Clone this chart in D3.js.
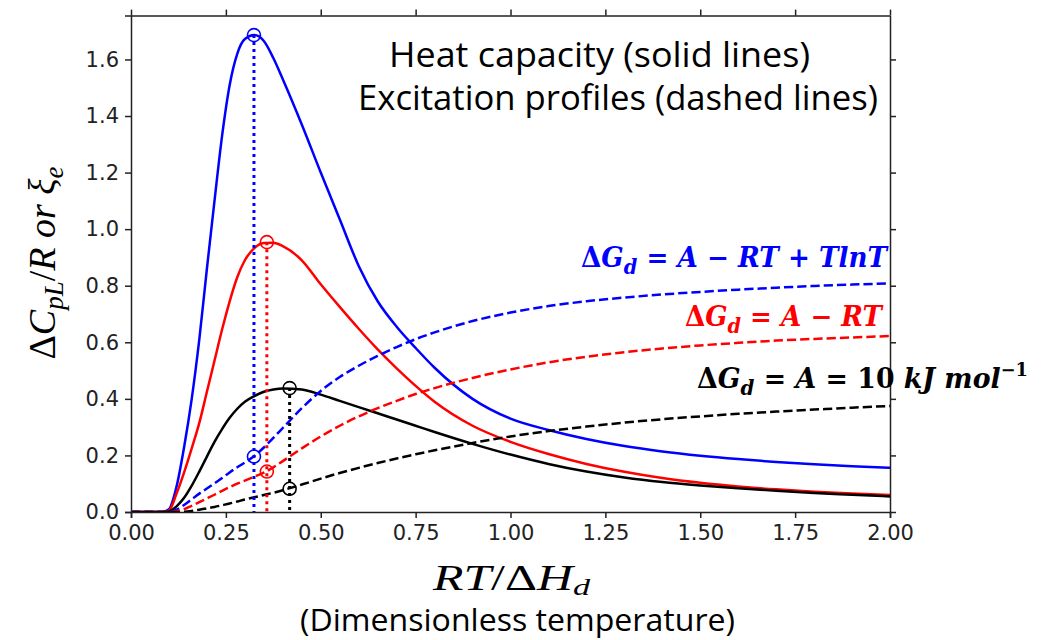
<!DOCTYPE html>
<html>
<head>
<meta charset="utf-8">
<script src="https://cdn.jsdelivr.net/npm/d3@7"></script>
<style>
  body { margin: 0; background: #fff; }
  .axis text { font-family: "DejaVu Sans", sans-serif; font-size: 21px; fill: #222; }
  .axis path, .axis line { stroke: #222; stroke-width: 1.5; }
</style>
</head>
<body>
<div id="chart"></div>
<script>
// x samples (RT/dHd)
var xGrid = [0, 0.05, 0.08, 0.10, 0.12, 0.14, 0.16, 0.18, 0.20, 0.22, 0.24, 0.26, 0.28, 0.30,
  0.325, 0.35, 0.375, 0.40, 0.45, 0.50, 0.55, 0.60, 0.65, 0.70, 0.75, 0.80, 0.90, 1.00,
  1.10, 1.20, 1.30, 1.40, 1.50, 1.60, 1.70, 1.80, 1.90, 2.00]

// heat capacity (solid)
var cpBlue = [0, 0, 0, 0.01, 0.09, 0.23, 0.40, 0.61, 0.86, 1.10, 1.33, 1.51, 1.62, 1.672,
  1.686, 1.665, 1.605, 1.53, 1.37, 1.20, 1.035, 0.87, 0.745, 0.655, 0.58, 0.51, 0.40, 0.33,
  0.29, 0.258, 0.233, 0.214, 0.199, 0.187, 0.177, 0.169, 0.162, 0.156]
var cpRed = [0, 0, 0, 0.005, 0.065, 0.14, 0.225, 0.315, 0.425, 0.535, 0.645, 0.745, 0.83, 0.89,
  0.933, 0.951, 0.952, 0.94, 0.89, 0.805, 0.725, 0.648, 0.575, 0.508, 0.446, 0.39, 0.305, 0.248,
  0.205, 0.17, 0.142, 0.12, 0.103, 0.09, 0.08, 0.072, 0.065, 0.06]
var cpBlack = [0, 0, 0, 0.002, 0.02, 0.05, 0.093, 0.143, 0.196, 0.248, 0.293, 0.333, 0.365, 0.39,
  0.41, 0.425, 0.433, 0.437, 0.433, 0.415, 0.393, 0.371, 0.349, 0.327, 0.305, 0.283, 0.241, 0.203,
  0.17, 0.143, 0.122, 0.106, 0.094, 0.084, 0.075, 0.067, 0.061, 0.055]

// excitation profiles (dashed)
var xiBlue = [0, 0, 0, 0, 0.008, 0.025, 0.045, 0.065, 0.083, 0.101, 0.12, 0.14, 0.158, 0.175,
  0.198, 0.228, 0.262, 0.297, 0.367, 0.428, 0.477, 0.517, 0.552, 0.583, 0.611, 0.635, 0.675, 0.705,
  0.728, 0.745, 0.758, 0.769, 0.778, 0.786, 0.793, 0.799, 0.804, 0.808]
var xiRed = [0, 0, 0, 0, 0.003, 0.01, 0.022, 0.035, 0.048, 0.061, 0.075, 0.088, 0.1, 0.111,
  0.125, 0.139, 0.158, 0.18, 0.225, 0.267, 0.305, 0.338, 0.367, 0.393, 0.417, 0.438, 0.474, 0.504,
  0.529, 0.549, 0.565, 0.578, 0.589, 0.598, 0.606, 0.612, 0.617, 0.622]
var xiBlack = [0, 0, 0, 0, 0, 0.001, 0.004, 0.008, 0.013, 0.018, 0.024, 0.03, 0.037, 0.044,
  0.052, 0.06, 0.068, 0.077, 0.097, 0.118, 0.138, 0.156, 0.173, 0.189, 0.204, 0.218, 0.244, 0.267,
  0.286, 0.302, 0.316, 0.328, 0.338, 0.347, 0.355, 0.362, 0.369, 0.375]

// peak of each heat capacity curve and the excitation value there
var peakX = [0.324, 0.358, 0.418]
var peakCp = [1.686, 0.954, 0.438]
var peakXi = [0.196, 0.143, 0.082]

var colors = ['#0000ff', '#ff0000', '#000000']
var xTicks = [0, 0.25, 0.5, 0.75, 1.0, 1.25, 1.5, 1.75, 2.0]
var yTicks = [0, 0.2, 0.4, 0.6, 0.8, 1.0, 1.2, 1.4, 1.6]
var titleLines = ['Heat capacity (solid lines)', 'Excitation profiles (dashed lines)']

;(function () {

  var margin = { top: 15.6, right: 162, bottom: 128, left: 131 }

  var width = 1052 - margin.left - margin.right,
      height = 640 - margin.top - margin.bottom

  var svg = d3.select('#chart').append('svg')
    .attr('width', 1052)
    .attr('height', 640)
    .style('font-family', 'Open Sans, sans-serif')

  var g = svg.append('g')
    .attr('transform', 'translate(' + margin.left + ',' + margin.top + ')')

  var xPositionScale = d3.scaleLinear()
    .domain([0, 2])
    .range([0, width])

  var yPositionScale = d3.scaleLinear()
    .domain([0, 1.755])
    .range([height, 0])

  g.append('clipPath').attr('id', 'clip')
    .append('rect').attr('width', width).attr('height', height)

  var line = d3.line()
    .x(function (d) { return xPositionScale(d[0]) })
    .y(function (d) { return yPositionScale(d[1]) })
    .curve(d3.curveMonotoneX)

  function pts(ys) {
    return xGrid.map(function (x, i) { return [x, ys[i]] })
  }

  var plot = g.append('g').attr('clip-path', 'url(#clip)')

  // solid lines
  ;[cpBlue, cpRed, cpBlack].forEach(function (ys, i) {
    plot.append('path')
      .datum(pts(ys))
      .attr('d', line)
      .attr('fill', 'none')
      .attr('stroke', colors[i])
      .attr('stroke-width', 2.5)
  })

  // dashed lines
  ;[xiBlue, xiRed, xiBlack].forEach(function (ys, i) {
    plot.append('path')
      .datum(pts(ys))
      .attr('d', line)
      .attr('fill', 'none')
      .attr('stroke', colors[i])
      .attr('stroke-width', 2.5)
      .attr('stroke-dasharray', '9.25,4')
  })

  // dotted drop lines from the peaks
  peakX.forEach(function (x, i) {
    plot.append('line')
      .attr('x1', xPositionScale(x))
      .attr('x2', xPositionScale(x))
      .attr('y1', yPositionScale(peakCp[i]))
      .attr('y2', yPositionScale(0))
      .attr('stroke', colors[i])
      .attr('stroke-width', 3)
      .attr('stroke-dasharray', '3,4')
  })

  // open circles
  peakX.forEach(function (x, i) {
    [peakCp[i], peakXi[i]].forEach(function (y) {
      g.append('circle')
        .attr('cx', xPositionScale(x))
        .attr('cy', yPositionScale(y))
        .attr('r', 6.5)
        .attr('fill', 'none')
        .attr('stroke', colors[i])
        .attr('stroke-width', 1.6)
    })
  })

  // axes, ticks out on all four sides
  var yAxis = d3.axisLeft(yPositionScale)
    .tickValues(yTicks)
    .tickFormat(d3.format('.1f'))
    .tickSizeOuter(0)
    .tickSize(6)
    .tickPadding(6)
  g.append('g').attr('class', 'axis y-axis').call(yAxis)

  var xAxis = d3.axisBottom(xPositionScale)
    .tickValues(xTicks)
    .tickFormat(d3.format('.2f'))
    .tickSizeOuter(0)
    .tickSize(6)
    .tickPadding(7)
  g.append('g').attr('class', 'axis x-axis')
    .attr('transform', 'translate(0,' + height + ')')
    .call(xAxis)

  g.append('g').attr('class', 'axis')
    .attr('transform', 'translate(' + width + ',0)')
    .call(d3.axisRight(yPositionScale).tickValues(yTicks).tickSizeOuter(0).tickFormat(''))

  g.append('g').attr('class', 'axis')
    .call(d3.axisTop(xPositionScale).tickValues(xTicks).tickSizeOuter(0).tickFormat(''))

  // title block
  svg.append('text')
    .attr('x', 389).attr('y', 67)
    .attr('font-size', 35)
    .attr('textLength', 421).attr('lengthAdjust', 'spacingAndGlyphs')
    .text(titleLines[0])
  svg.append('text')
    .attr('x', 358).attr('y', 110)
    .attr('font-size', 35)
    .attr('textLength', 520).attr('lengthAdjust', 'spacingAndGlyphs')
    .text(titleLines[1])

  // model labels, placed by left edge, baseline and width
  function modelLabel(x, y, w, color, rest, sup) {
    var t = svg.append('text')
      .attr('x', x).attr('y', y)
      .attr('fill', color)
      .attr('font-family', 'DejaVu Serif, serif')
      .attr('font-weight', 'bold')
      .attr('font-size', 27)
      .attr('textLength', w).attr('lengthAdjust', 'spacingAndGlyphs')
    t.append('tspan').text('\u0394')
    t.append('tspan').attr('font-style', 'italic').text('G')
    t.append('tspan').attr('font-style', 'italic').attr('font-size', 20).attr('dy', 7).text('d')
    rest.forEach(function (r, i) {
      var s = t.append('tspan').attr('font-style', r[1] ? 'italic' : 'normal').text(r[0])
      if (i === 0) s.attr('dy', -7)
    })
    if (sup) {
      t.append('tspan').attr('font-size', 18).attr('dy', -12).text(sup)
    }
  }

  modelLabel(581, 267, 306, colors[0],
    [[' = ', 0], ['A', 1], [' \u2212 ', 0], ['RT', 1], [' + ', 0], ['TlnT', 1]])
  modelLabel(685, 326, 197, colors[1],
    [[' = ', 0], ['A', 1], [' \u2212 ', 0], ['RT', 1]])
  modelLabel(697, 388, 331, colors[2],
    [[' = ', 0], ['A', 1], [' = ', 0], ['10', 0], [' kJ mol', 1]], '\u22121')

  // y label (math)
  var yl = svg.append('text')
    .attr('transform', 'translate(55,263) rotate(-90)')
    .attr('text-anchor', 'middle')
    .attr('font-family', 'Liberation Serif, serif')
    .attr('font-size', 38)
    .attr('fill', '#000')
  yl.append('tspan').text('\u0394')
  yl.append('tspan').attr('font-style', 'italic').text('C')
  yl.append('tspan').attr('font-style', 'italic').attr('font-size', 27).attr('dy', 8).text('pL')
  yl.append('tspan').attr('dy', -8).text('/')
  yl.append('tspan').attr('font-style', 'italic').text('R or \u03be')
  yl.append('tspan').attr('font-style', 'italic').attr('font-size', 27).attr('dy', 8).text('e')

  // x label (math + plain words)
  var xl = svg.append('text')
    .attr('x', 433).attr('y', 590)
    .attr('font-family', 'Liberation Serif, serif')
    .attr('font-size', 35)
    .attr('fill', '#000')
    .attr('textLength', 157).attr('lengthAdjust', 'spacingAndGlyphs')
  xl.append('tspan').attr('font-style', 'italic').text('RT')
  xl.append('tspan').text('/\u0394')
  xl.append('tspan').attr('font-style', 'italic').text('H')
  xl.append('tspan').attr('font-style', 'italic').attr('font-size', 24).attr('dy', 5).text('d')

  svg.append('text')
    .attr('x', 300).attr('y', 631)
    .attr('font-size', 31)
    .attr('fill', '#000')
    .attr('textLength', 435).attr('lengthAdjust', 'spacingAndGlyphs')
    .text('(Dimensionless temperature)')

})()
</script>
</body>
</html>
